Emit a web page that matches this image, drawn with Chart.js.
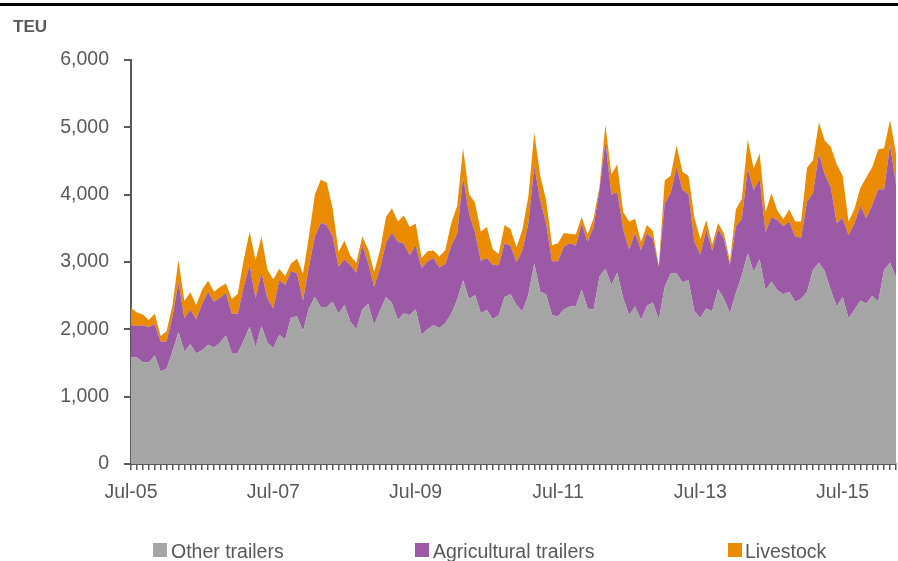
<!DOCTYPE html>
<html>
<head>
<meta charset="utf-8">
<script src="https://cdn.jsdelivr.net/npm/chart.js@4"></script>
<style>
  html, body { margin: 0; padding: 0; background: #ffffff; }
  #wrap { position: relative; width: 898px; height: 561px; overflow: hidden; }
  canvas { display: block; }
</style>
</head>
<body>
<div id="wrap"><canvas id="c" width="898" height="561"></canvas></div>
<script>
// ---- Data (TEU, monthly from Jul-05) ----
const startYear = 2005, startMonth = 6, monthCount = 130;
const tickLabels = ['Jul-05', 'Jul-07', 'Jul-09', 'Jul-11', 'Jul-13', 'Jul-15'];
const seriesNames = ['Other trailers', 'Agricultural trailers', 'Livestock'];

const otherTrailers = [
  1590,1580,1510,1510,1610,1370,1420,1670,1960,1670,
  1780,1640,1690,1770,1730,1800,1910,1650,1650,1830,
  2040,1730,2050,1800,1720,1920,1850,2180,2190,1970,
  2310,2480,2330,2330,2410,2230,2360,2110,2000,2300,
  2380,2060,2280,2480,2390,2140,2240,2210,2300,1920,
  2000,2060,2020,2090,2230,2440,2730,2450,2510,2240,
  2290,2150,2210,2480,2520,2360,2270,2510,2980,2560,
  2520,2210,2190,2300,2340,2340,2590,2310,2290,2780,
  2900,2660,2840,2460,2210,2340,2140,2350,2400,2140,
  2630,2830,2830,2700,2730,2270,2170,2310,2270,2600,
  2450,2240,2540,2800,3130,2850,3040,2580,2710,2580,
  2520,2560,2410,2450,2560,2880,2990,2860,2580,2340,
  2480,2160,2290,2430,2380,2500,2410,2880,2990,2770
];
const agriculturalTrailers = [
  470,470,550,520,470,450,400,520,740,500,
  510,510,690,790,680,670,630,580,580,800,
  910,730,790,660,590,810,810,690,640,460,
  620,900,1250,1220,970,700,680,840,840,960,
  600,570,630,810,1040,1160,1030,890,950,990,
  1010,1000,900,880,1010,980,1530,1270,930,780,
  770,810,740,800,720,640,900,1060,1450,1360,
  1050,800,820,930,940,900,980,990,1230,1290,
  1890,1340,1200,1020,980,1090,1040,1080,940,790,
  1240,1190,1580,1370,1280,1030,940,1170,900,890,
  890,710,990,840,1260,1220,1200,860,960,1040,
  1010,1040,970,910,1340,1140,1620,1440,1530,1240,
  1170,1240,1290,1400,1270,1350,1670,1200,1750,1380
];
const livestock = [
  260,200,160,110,150,80,150,170,330,250,
  260,210,210,160,150,160,140,220,300,400,
  500,570,540,430,430,170,130,110,220,400,
  450,620,640,630,420,220,280,140,150,120,
  210,220,270,380,370,300,420,420,320,150,
  150,110,160,210,340,410,430,290,440,430,
  460,230,170,270,250,220,310,400,490,370,
  350,240,270,200,140,170,100,110,130,50,
  250,300,410,260,410,210,120,120,120,10,
  340,260,320,270,270,360,230,140,90,90,
  80,60,250,300,430,320,370,300,350,140,
  110,180,220,240,500,490,460,500,600,870,
  630,200,210,270,610,560,590,610,370,460
];

// category labels (months)
const monthNames = ['Jan','Feb','Mar','Apr','May','Jun','Jul','Aug','Sep','Oct','Nov','Dec'];
const categories = [];
for (let k = 0; k < monthCount; k++) {
  const m = (startMonth + k) % 12;
  const y = startYear + Math.floor((startMonth + k) / 12);
  categories.push(monthNames[m] + '-' + String(y % 100).padStart(2, '0'));
}

const COLORS = ['#A5A5A5', '#9B59A6', '#EB8C00'];
const TEXT = '#595959';
const AXIS = '#595959';
const FONT = "'Liberation Sans', Arial, sans-serif";

const decorPlugin = {
  id: 'decor',
  afterDraw(chart) {
    const ctx = chart.ctx;
    ctx.save();
    // top rule
    ctx.fillStyle = '#000000';
    ctx.fillRect(0, 3, 898, 3);
    // unit label
    ctx.fillStyle = TEXT;
    ctx.font = "bold 17px " + FONT;
    ctx.textBaseline = 'alphabetic';
    ctx.textAlign = 'left';
    ctx.fillText('TEU', 13, 32);
    // legend
    const boxX = [153, 415, 728];
    const txtX = [171, 433, 745];
    ctx.font = "19.5px " + FONT;
    for (let k = 0; k < 3; k++) {
      ctx.fillStyle = COLORS[k];
      ctx.fillRect(boxX[k], 543, 14, 14);
      ctx.fillStyle = TEXT;
      ctx.fillText(seriesNames[k], txtX[k], 558);
    }
    ctx.restore();
  }
};

const ds = (label, data, color, fill) => ({
  label, data, backgroundColor: color, borderColor: color, borderWidth: 0,
  fill, pointRadius: 0, tension: 0
});

new Chart(document.getElementById('c'), {
  type: 'line',
  data: {
    labels: categories,
    datasets: [
      ds(seriesNames[0], otherTrailers, COLORS[0], 'origin'),
      ds(seriesNames[1], agriculturalTrailers, COLORS[1], '-1'),
      ds(seriesNames[2], livestock, COLORS[2], '-1')
    ]
  },
  options: {
    responsive: false,
    animation: false,
    devicePixelRatio: 1,
    layout: { padding: { top: 60, right: 2, left: 0, bottom: 0 } },
    plugins: { legend: { display: false }, tooltip: { enabled: false } },
    scales: {
      x: {
        offset: false,
        grid: { display: true, drawOnChartArea: false, drawTicks: true, tickLength: 6, color: AXIS, lineWidth: 1.5 },
        border: { display: true, color: AXIS, width: 2 },
        ticks: {
          autoSkip: false, maxRotation: 0, minRotation: 0, padding: 11,
          color: TEXT, font: { family: FONT, size: 19.5 },
          callback: function (v, i) {
            const lab = categories[i];
            return tickLabels.includes(lab) ? lab : '';
          }
        },
        afterFit: s => { s.height = 97; s.paddingRight = 0; }
      },
      y: {
        stacked: true, min: 0, max: 6000,
        grid: { display: true, drawOnChartArea: false, drawTicks: true, tickLength: 7, color: AXIS, lineWidth: 2 },
        border: { display: true, color: AXIS, width: 2 },
        ticks: {
          stepSize: 1000, padding: 15, color: TEXT, font: { family: FONT, size: 19.5 },
          callback: v => v.toLocaleString('en-US')
        },
        afterFit: s => { s.width = 131; }
      }
    }
  },
  plugins: [decorPlugin]
});
</script>
</body>
</html>
